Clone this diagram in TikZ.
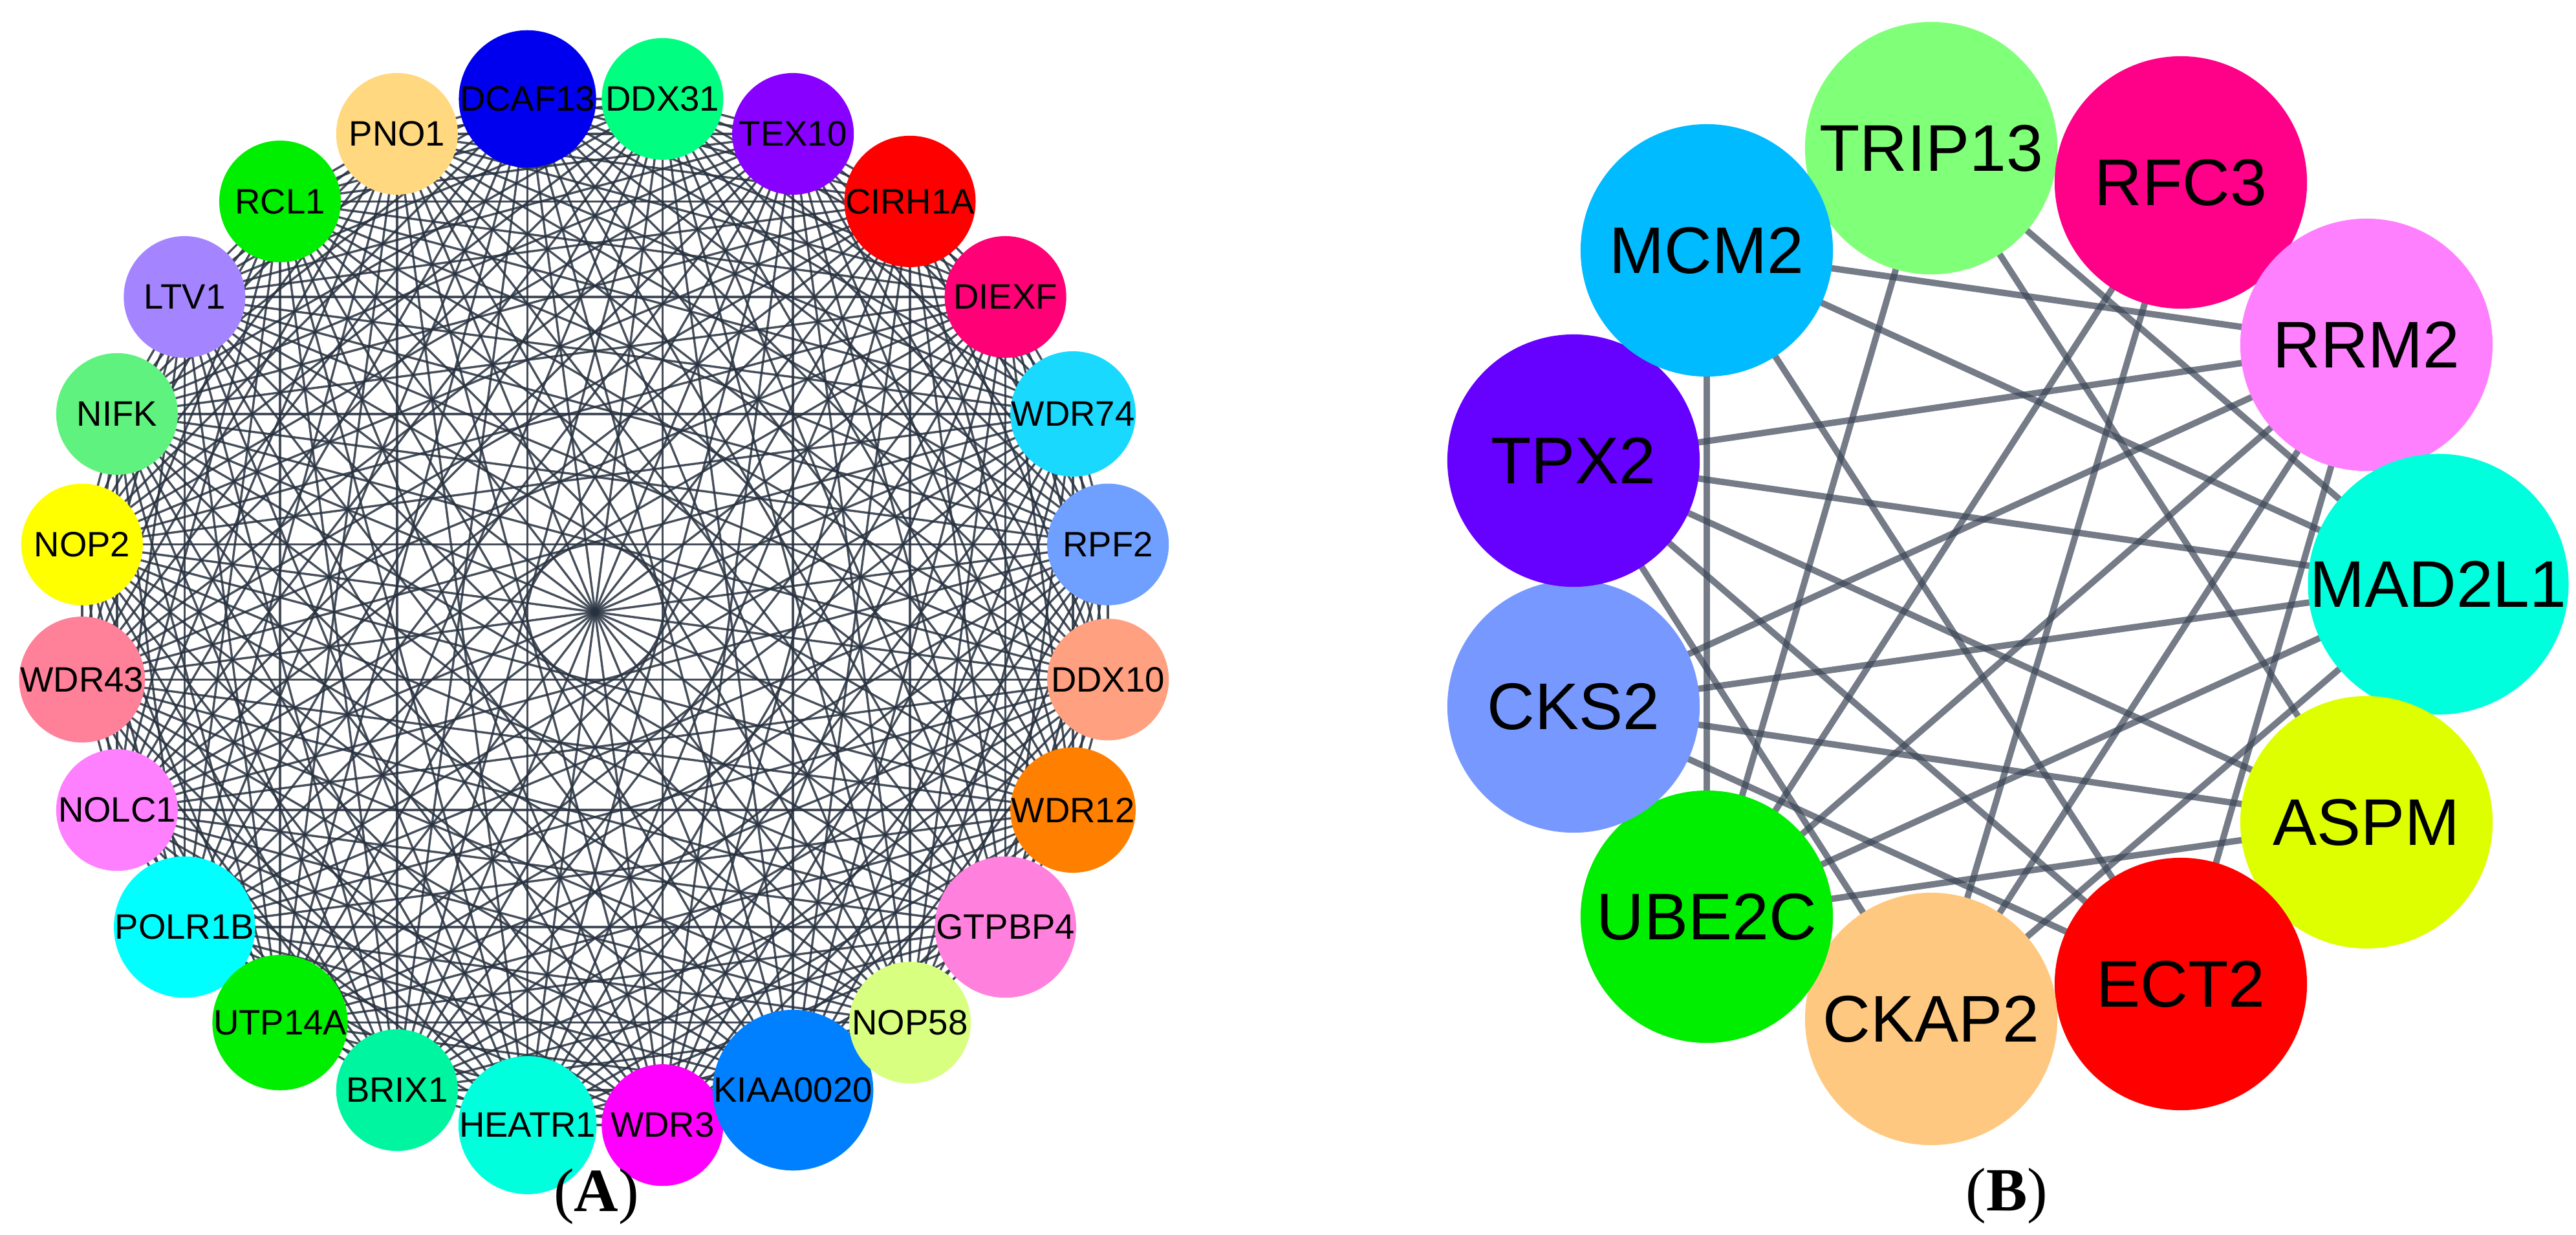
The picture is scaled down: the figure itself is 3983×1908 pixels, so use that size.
\documentclass[tikz,border=0pt]{standalone}
\usepackage{fontspec}
\setmainfont{Liberation Serif}
\newfontfamily\arialf{Liberation Sans}
\usetikzlibrary{backgrounds}
\definecolor{edgeA}{HTML}{26303E}
\definecolor{edgeB}{HTML}{3A4556}
\begin{document}
\begin{tikzpicture}[x=0.01cm,y=-0.01cm,
  anode/.style={circle,minimum size=1.88cm,inner sep=0pt,font=\arialf\fontsize{15.5}{15.5}\selectfont},
  bnode/.style={circle,minimum size=3.9cm,inner sep=0pt,font=\arialf\fontsize{29}{29}\selectfont},
  aedge/.style={draw=edgeA,line width=0.95pt,opacity=0.85},
  bedge/.style={draw=edgeB,line width=2.8pt,opacity=0.7},
  plabel/.style={font=\fontsize{27}{27}\selectfont}]
\useasboundingbox (0,0) rectangle (3983,1908);
% panel A
\foreach \n/\c [count=\i] in {DCAF13/0000EE,PNO1/FFD880,RCL1/00EE00,LTV1/A585FF,NIFK/60F27F,NOP2/FFFF00,WDR43/FF8099,NOLC1/FF80FF,POLR1B/00FFFF,UTP14A/00EE00,BRIX1/00F5A0,HEATR1/00FFDD,WDR3/FF00FF,KIAA0020/0080FF,NOP58/D9FF80,GTPBP4/FF80DD,WDR12/FF8000,DDX10/FFA080,RPF2/6F9FFF,WDR74/19D9FF,DIEXF/FF0077,CIRH1A/FF0000,TEX10/8800FF,DDX31/00FF80}{
  \pgfmathsetmacro\ang{97.5+15*(\i-1)}
  \definecolor{c\i}{HTML}{\c}
  \node[anode,fill=c\i] (a\i) at ({920+800*cos(\ang)},{946-800*sin(\ang)}) {\n};
}
\begin{scope}[on background layer]
\foreach \i in {1,...,23}{
  \pgfmathtruncatemacro\k{\i+1}
  \foreach \j in {\k,...,24}{\draw[aedge] (a\i.center) -- (a\j.center);}
}
\end{scope}
\node[plabel] (labA) at (922,1850) {(\textbf{A})};
% panel B
\foreach \n/\c/\x/\y in {TRIP13/80FF78/2986/229,RFC3/FF0088/3372/282,RRM2/FF80FF/3659/533,MAD2L1/00FFDD/3770/903,ASPM/DDFF00/3659/1271,ECT2/FF0000/3372/1521,CKAP2/FFC880/2986/1575,UBE2C/00EE00/2639/1417,CKS2/7799FF/2433/1092,TPX2/6600FF/2433/712,MCM2/00BBFF/2639/387}{
  \definecolor{col\n}{HTML}{\c}
  \node[bnode,fill=col\n] (\n) at (\x,\y) {\n};
}
\begin{scope}[on background layer]
\foreach \u/\v in {MCM2/RRM2,MCM2/MAD2L1,MCM2/ECT2,MCM2/UBE2C,MCM2/TPX2,MCM2/TRIP13,
  TRIP13/UBE2C,TRIP13/ASPM,TRIP13/MAD2L1,TRIP13/RFC3,
  RFC3/UBE2C,RFC3/CKAP2,RFC3/RRM2,
  RRM2/TPX2,RRM2/CKS2,RRM2/ECT2,RRM2/CKAP2,RRM2/UBE2C,RRM2/MAD2L1,
  MAD2L1/TPX2,MAD2L1/CKS2,MAD2L1/UBE2C,MAD2L1/CKAP2,MAD2L1/ASPM,
  ASPM/CKS2,ASPM/UBE2C,ASPM/TPX2,ASPM/ECT2,
  ECT2/TPX2,ECT2/CKS2,ECT2/CKAP2,
  CKAP2/TPX2,CKAP2/UBE2C,
  UBE2C/CKS2,CKS2/TPX2}
  {\draw[bedge] (\u.center) -- (\v.center);}
\end{scope}
\node[plabel] (labB) at (3103,1849) {(\textbf{B})};
\end{tikzpicture}
\end{document}
